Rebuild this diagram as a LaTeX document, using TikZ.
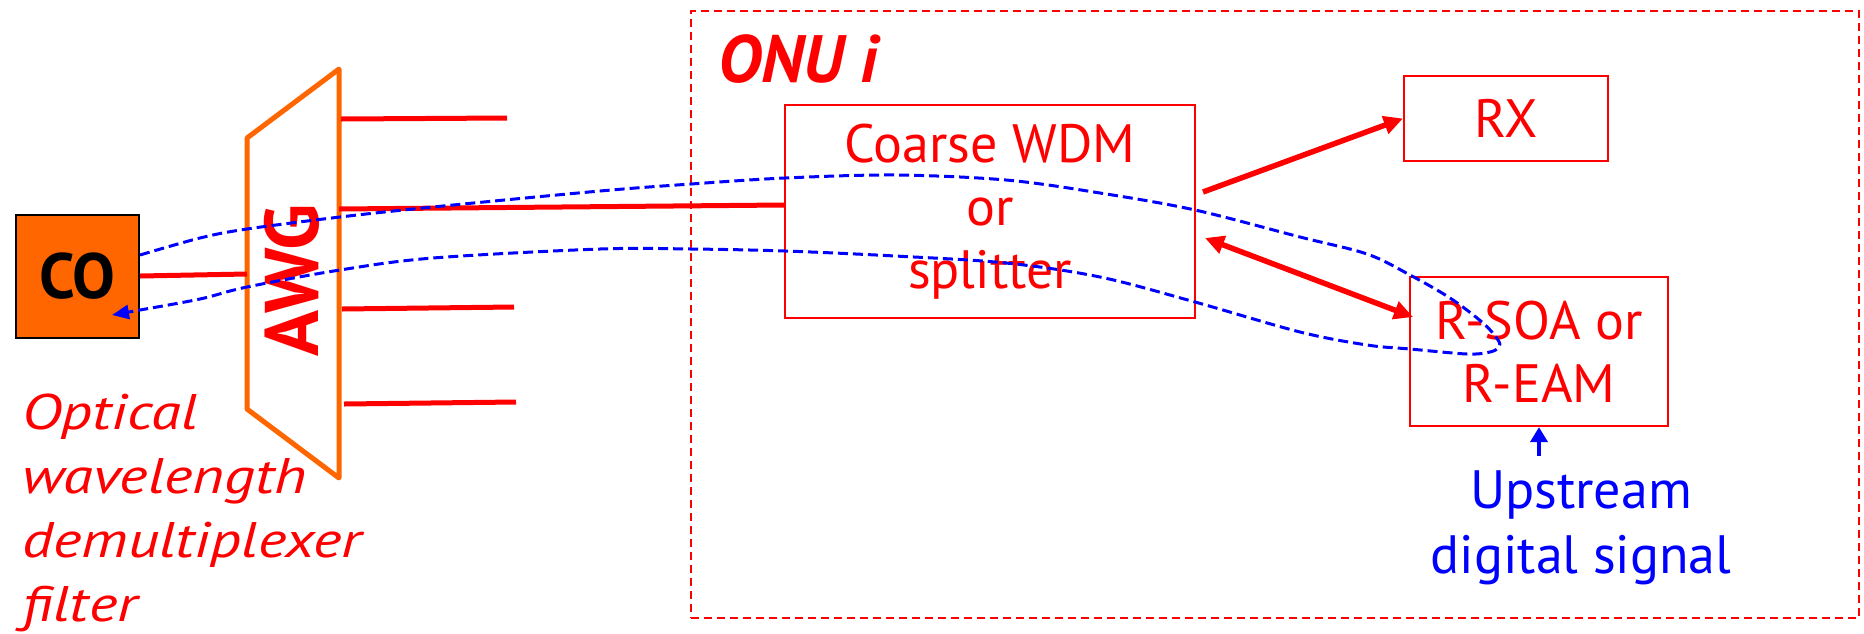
\documentclass[tikz,border=0pt]{standalone}
\usepackage{fontspec}
\setmainfont{PT Sans}
\newfontfamily\widelabel[FakeStretch=1.22]{PT Sans}
\usetikzlibrary{arrows.meta}
\definecolor{redc}{HTML}{FF0000}
\definecolor{orangec}{HTML}{FF6600}
\definecolor{bluec}{HTML}{0000FF}
\begin{document}
\begin{tikzpicture}[x=1pt,y=-1pt,
  redbox/.style={draw=redc, line width=2.2pt, inner sep=0pt, text=redc,
    font=\fontsize{54}{63}\selectfont, align=center},
  fibreline/.style={draw=redc, line width=5pt},
  redarrow/.style={draw=redc, line width=5.5pt, -{Triangle[length=19pt,width=18pt]}},
  redboth/.style={draw=redc, line width=5.5pt, {Triangle[length=19pt,width=18pt]}-{Triangle[length=19pt,width=18pt]}},
  signal/.style={draw=bluec, line width=3pt, dash pattern=on 10pt off 5pt,
    -{Triangle[length=17pt,width=14pt]}},
  bluearrow/.style={draw=bluec, line width=4pt, -{Triangle[length=15pt,width=17pt]}},
  onuframe/.style={draw=redc, line width=1.8pt, dash pattern=on 8pt off 5pt, inner sep=0pt}]
\useasboundingbox (0,0) rectangle (1864,633);

% ONU enclosure
\node[onuframe, minimum width=1168pt, minimum height=607pt] (onu) at (1275,314.5) {};
\node[anchor=base west, inner sep=0pt, text=redc,
  font=\fontsize{67}{80}\selectfont\bfseries\itshape] (onulabel) at (718,82) {ONU i};

% central office
\node[draw=black, line width=2.2pt, fill=orangec, minimum size=123pt, inner sep=0pt,
  font=\fontsize{64}{70}\selectfont\bfseries] (co) at (77.5,276.5) {CO};

% arrayed waveguide grating
\coordinate (awgtr) at (339,69);
\coordinate (awgtl) at (247,138);
\coordinate (awgbl) at (247,409);
\coordinate (awgbr) at (339,478);
\draw[orangec, line width=5pt, line join=round] (awgtr) -- (awgtl) -- (awgbl) -- (awgbr) -- cycle;
\node[rotate=90, text=redc, inner sep=0pt,
  font=\fontsize{76}{80}\selectfont\bfseries] (awg) at (292,280) {AWG};
% (multi-line nodes sit on the baseline of their last line)
\node[anchor=base west, align=left, inner sep=0pt, text=redc,
  font=\widelabel\fontsize{50}{64}\selectfont\itshape] (awgnote) at (22,621)
  {Optical\\wavelength\\demultiplexer\\filter};

% ONU blocks
\node[redbox, minimum width=410pt, minimum height=213pt] (cwdm) at (990,211.5)
  {Coarse WDM\\or\\splitter};
\node[redbox, minimum width=204pt, minimum height=85pt] (rx) at (1506,118.5) {RX};
\node[redbox, minimum width=258pt, minimum height=149pt] (rsoa) at (1539,351.5)
  {R-SOA or\\R-EAM};
\node[anchor=base, align=center, inner sep=0pt, text=bluec,
  font=\fontsize{54}{65}\selectfont] (upstream) at (1581,573)
  {Upstream\\digital signal};

% fibres
\coordinate (awgin) at (247,274);
\coordinate (out1a) at (341,119);
\coordinate (out1b) at (507,118);
\coordinate (out2a) at (339,209);
\coordinate (out3a) at (342,309);
\coordinate (out3b) at (514,307);
\coordinate (out4a) at (344,404);
\coordinate (out4b) at (516,402);
\draw[fibreline] (co.east |- 0,276) -- (awgin);
\draw[fibreline] (out1a) -- (out1b);
\draw[fibreline] (out2a) -- (cwdm.west |- 0,205);
\draw[fibreline] (out3a) -- (out3b);
\draw[fibreline] (out4a) -- (out4b);

% links inside the ONU
\coordinate (cwdmout) at (1203,192);
\coordinate (cwdmport) at (1205,238);
\coordinate (rsoaport) at (1413,317);
\draw[redarrow] (cwdmout) -- (rx.west);
\draw[redboth] (cwdmport) -- (rsoaport);
\coordinate (uptail) at (1539,456);
\draw[bluearrow] (uptail) -- (rsoa.south);

% downstream seed reflected back upstream
\coordinate (loopstart) at (140,255);
\coordinate (loopend) at (112,315);
\draw[signal] plot[smooth, tension=0.55] coordinates {
  (loopstart) (200,238) (247,229) (340,217) (433,207) (600,191) (691,184)
  (785,178) (895,175) (1006,180) (1100,193) (1195,210) (1300,237) (1367,254)
  (1410,275) (1450,298) (1483,323) (1498,340) (1499,347) (1490,352) (1467,354)
  (1410,349) (1367,345) (1300,332) (1195,302) (1100,277) (1006,263) (895,256)
  (785,251) (691,249) (600,249) (433,258) (340,270) (247,287) (200,299)
  (140,310) (loopend)};
\end{tikzpicture}
\end{document}
